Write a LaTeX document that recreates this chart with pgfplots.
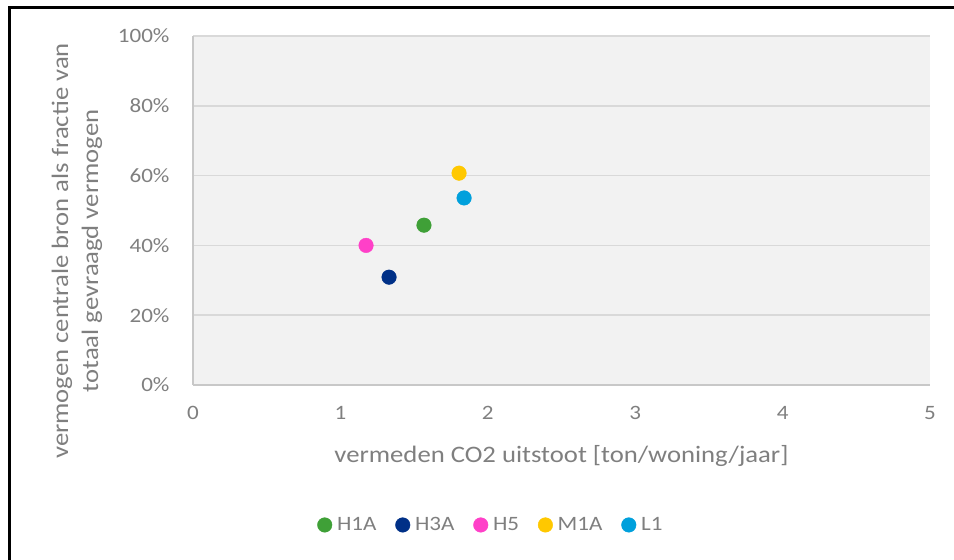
\documentclass[border=0pt]{standalone}
\usepackage{fontspec}
\setmainfont{Carlito}[FakeStretch=1.13]
\usepackage{pgfplots}
\pgfplotsset{compat=1.18}
\definecolor{cHoneA}{HTML}{3FA037}
\definecolor{cHthreeA}{HTML}{003087}
\definecolor{cHfive}{HTML}{FF40C8}
\definecolor{cMoneA}{HTML}{FFC800}
\definecolor{cLone}{HTML}{00A0DC}
\definecolor{gridc}{HTML}{D9D9D9}
\definecolor{axc}{HTML}{C8C8C8}
\definecolor{bgc}{HTML}{F2F2F2}
\definecolor{txt}{HTML}{7F7F7F}
\begin{document}
\begin{tikzpicture}[font=\fontsize{20.5}{24}\selectfont]
\path[use as bounding box] (0bp,0bp) rectangle (954bp,-560bp);
\draw[black, line width=3bp] (9bp,-561bp) -- (9bp,-7bp) -- (955bp,-7bp);
\begin{axis}[
  at={(193bp,-385bp)}, anchor=south west,
  scale only axis, width=737bp, height=349bp,
  xmin=0, xmax=5, ymin=0, ymax=100,
  xtick={0,1,2,3,4,5}, ytick={0,20,40,60,80,100},
  yticklabel={\pgfmathprintnumber{\tick}\%},
  /pgf/number format/assume math mode=true,
  major tick length=0pt,
  tick label style={text=txt},
  xticklabel style={yshift=-18bp},
  yticklabel style={xshift=-20bp},
  axis x line*=bottom, axis y line*=left,
  axis line style={axc, line width=1.5bp, -},
  axis background/.style={fill=bgc},
  ymajorgrids, major grid style={gridc, line width=1.5bp},
  clip=false,
  xlabel={vermeden CO2 uitstoot [ton/woning/jaar]},
  xlabel style={at={(rel axis cs:0.5,-0.2034)}, anchor=center, text=txt, font=\fontsize{23.7}{30}\selectfont},
  ylabel={vermogen centrale bron als fractie van\\totaal gevraagd vermogen},
  ylabel style={at={(rel axis cs:-0.1574,0.384)}, anchor=center, align=center, text=txt, font=\fontsize{23.7}{30}\selectfont},
  legend columns=5,
  legend style={at={(rel axis cs:0.4043,-0.401)}, anchor=center, draw=none, fill=none, text=txt,
    /tikz/every odd column/.append style={column sep=3bp},
    /tikz/every even column/.append style={column sep=17bp}},
  legend image code/.code={\draw[mark repeat=2,mark phase=2,#1] plot coordinates {(0bp,0bp)(11bp,0bp)(22bp,0bp)};},
  every axis plot/.append style={only marks, mark=*, mark size=7.3bp},
]
\addplot[cHoneA, mark options={fill=cHoneA, draw=cHoneA}] coordinates {(1.567,45.8)};
\addlegendentry{H1A}
\addplot[cHthreeA, mark options={fill=cHthreeA, draw=cHthreeA}] coordinates {(1.33,30.9)};
\addlegendentry{H3A}
\addplot[cHfive, mark options={fill=cHfive, draw=cHfive}] coordinates {(1.174,40.0)};
\addlegendentry{H5}
\addplot[cMoneA, mark options={fill=cMoneA, draw=cMoneA}] coordinates {(1.805,60.7)};
\addlegendentry{M1A}
\addplot[cLone, mark options={fill=cLone, draw=cLone}] coordinates {(1.839,53.6)};
\addlegendentry{L1}
\end{axis}
\end{tikzpicture}
\end{document}
